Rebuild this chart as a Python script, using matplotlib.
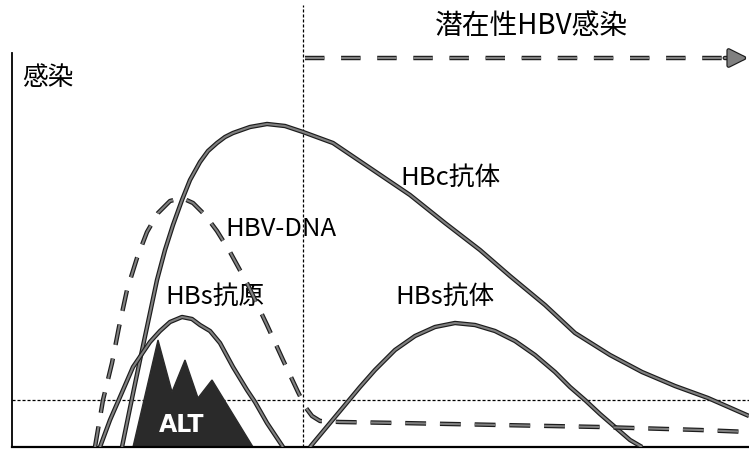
import matplotlib
matplotlib.use("Agg")
import matplotlib.pyplot as plt
import matplotlib.patheffects as pe

plt.rcParams['font.family'] = ['Noto Sans CJK JP', 'DejaVu Sans']
plt.rcParams['lines.scale_dashes'] = False

# schematic course of HBV infection (time, level)
hbc_t = [110, 118, 128, 138, 145, 153, 161, 170, 178, 188, 196, 205, 213, 221, 238, 255, 273, 291,
         321, 361, 398, 433, 468, 498, 533, 563, 598, 630, 663, 696, 737]
hbc_v = [0, 39, 87, 134, 167, 197, 222, 247, 267, 285, 296, 304, 310, 314, 320, 323, 321, 315,
         304, 277, 252, 224, 197, 171, 142, 114, 92, 75, 61, 49, 31]

hbsag_t = [88, 98, 108, 121, 138, 148, 158, 170, 180, 188, 198, 208, 221, 235, 243, 255, 271]
hbsag_v = [0, 27, 50, 80, 105, 116, 125, 130, 128, 122, 116, 104, 80, 57, 45, 24, 0]

dna_t = [83, 91, 100, 107, 115, 125, 135, 146, 158, 170, 181, 193, 205, 218, 235, 255, 271,
         286, 294, 300, 308, 328, 388, 488, 588, 688, 737]
dna_v = [0, 47, 84, 120, 157, 189, 215, 234, 246, 249, 244, 232, 216, 195, 164, 122, 87,
         55, 39, 31, 26, 25, 24, 22, 20, 17, 15]

hbsab_t = [298, 308, 318, 333, 348, 363, 383, 403, 423, 443, 463, 483, 503, 523, 543, 558,
           573, 588, 603, 618, 630]
hbsab_v = [0, 12, 24, 42, 60, 77, 97, 111, 120, 124, 122, 116, 106, 92, 75, 60,
           47, 33, 20, 7, 0]

alt_t = [121, 146, 160, 173, 186, 200, 241]
alt_v = [0, 107, 55, 87, 49, 67, 0]

latent_start = 291
alt_limit = 47
arrow_level = 389

fig = plt.figure(figsize=(7.49, 4.5), dpi=100)
ax = fig.add_axes([12 / 749, 3 / 450, 737 / 749, 394 / 450])
ax.set_xlim(0, 737)
ax.set_ylim(0, 394)
ax.set_xticks([])
ax.set_yticks([])
ax.spines['top'].set_visible(False)
ax.spines['right'].set_visible(False)
ax.spines['left'].set_linewidth(1.3)
ax.spines['bottom'].set_linewidth(1.6)

outline = [pe.Stroke(linewidth=3.2, foreground='#1c1c1c'), pe.Normal()]

# reference lines
ax.plot([latent_start, latent_start], [0, 442], color='black', lw=0.9,
        linestyle=(0, (2.2, 1.4)), clip_on=False)
ax.plot([0, 737], [alt_limit, alt_limit], color='black', lw=0.9,
        linestyle=(0, (2.2, 1.4)))

# ALT
ax.fill(alt_t, alt_v, color='#2a2a2a', zorder=2)
ax.text(170, 22, 'ALT', color='white', fontsize=17, fontweight='bold',
        ha='center', va='center', family='DejaVu Sans', zorder=3)

style = dict(color='#808080', lw=1.5, path_effects=outline, zorder=4,
             solid_capstyle='butt', dash_capstyle='butt')
ax.plot(hbc_t, hbc_v, **style)
ax.plot(hbsag_t, hbsag_v, **style)
ax.plot(hbsab_t, hbsab_v, **style)
ax.plot(dna_t, dna_v, linestyle=(0, (15, 10)), **style)

# latent infection arrow
ax.plot([latent_start + 2, 722], [arrow_level, arrow_level], linestyle=(0, (14, 12)),
        clip_on=False, **style)
ax.annotate('', xy=(737, arrow_level), xytext=(710, arrow_level),
            annotation_clip=False,
            arrowprops=dict(arrowstyle='-|>,head_length=1.1,head_width=0.55',
                            color='#808080', lw=1.5, path_effects=outline))

fs = 18.5
ax.text(10, 369, '感染', fontsize=fs, ha='left', va='center')
ax.text(423, 421, '潜在性HBV感染', fontsize=fs + 1.5, ha='left', va='center', clip_on=False)
ax.text(388, 269, 'HBc抗体', fontsize=fs, ha='left', va='center')
ax.text(213, 218, 'HBV-DNA', fontsize=fs, ha='left', va='center')
ax.text(153, 150, 'HBs抗原', fontsize=fs, ha='left', va='center')
ax.text(383, 150, 'HBs抗体', fontsize=fs, ha='left', va='center')

fig.savefig('out.png', dpi=100)
